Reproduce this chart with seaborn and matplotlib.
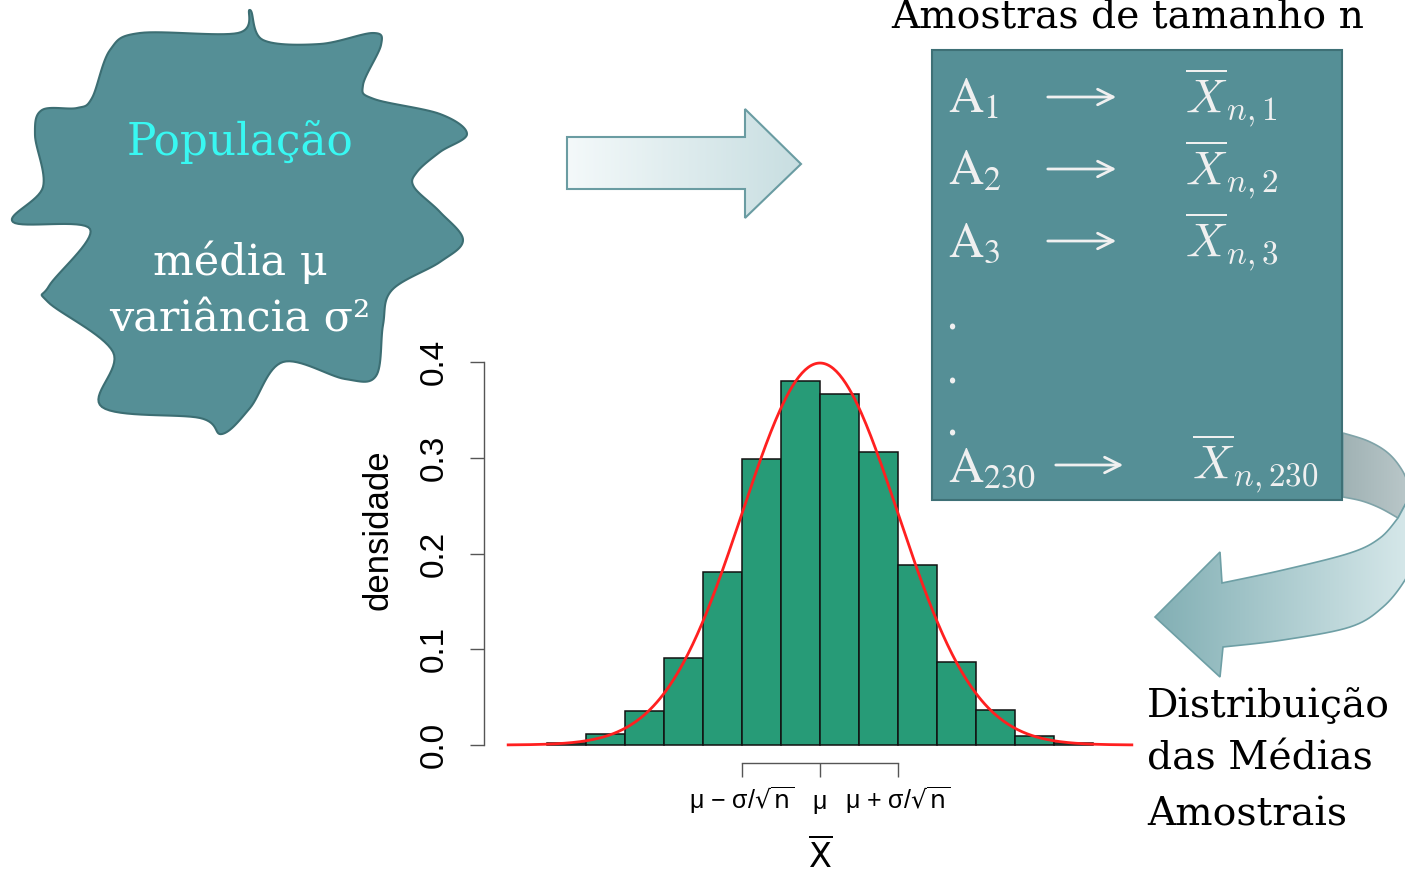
import numpy as np
import matplotlib
matplotlib.use("Agg")
import matplotlib.pyplot as plt
from matplotlib.patches import Polygon, Rectangle
import seaborn as sns

# Dados do histograma (médias amostrais padronizadas)
limites_classes = [-3.5, -3.0, -2.5, -2.0, -1.5, -1.0, -0.5, 0.0, 0.5, 1.0, 1.5, 2.0, 2.5, 3.0, 3.5]
densidade = [0.002, 0.012, 0.036, 0.091, 0.181, 0.299, 0.380, 0.367, 0.306, 0.188, 0.087, 0.037, 0.009, 0.002]
mu, sigma = 0.0, 1.0
ticks_y = [0.0, 0.1, 0.2, 0.3, 0.4]
ticks_x = [-1, 0, 1]
rotulos_x = [r'μ − σ/$\sqrt{\mathrm{n}}$', 'μ', r'μ + σ/$\sqrt{\mathrm{n}}$']
amostras = ['1', '2', '3']

centros = [(a + b) / 2 for a, b in zip(limites_classes[:-1], limites_classes[1:])]
x_curva = np.linspace(-4, 4, 400)
y_curva = np.exp(-0.5 * ((x_curva - mu) / sigma) ** 2) / (sigma * np.sqrt(2 * np.pi))

plt.rcParams['font.family'] = ['Liberation Sans', 'DejaVu Sans']

W, H = 1405, 877
fig = plt.figure(figsize=(W / 100, H / 100), dpi=100)

# eixo do histograma (posição em pixels da figura)
ax = fig.add_axes([484 / W, (H - 763) / H, 672 / W, (763 - 346.7) / H])
ax.patch.set_alpha(0)
sns.histplot(x=centros, weights=densidade, bins=limites_classes, stat='count',
             color='#279B77', alpha=1, edgecolor='#111111', linewidth=1.1, ax=ax)
sns.lineplot(x=x_curva, y=y_curva, color='#FF2020', linewidth=2.0, estimator=None, ax=ax)
ax.set_xlim(-4.31, 4.31)
ax.set_ylim(-0.0188, 0.416)
for s in ['top', 'right']:
    ax.spines[s].set_visible(False)
ax.spines['left'].set_bounds(0, 0.4)
ax.spines['bottom'].set_bounds(-1, 1)
for s in ['left', 'bottom']:
    ax.spines[s].set_color('#555555')
    ax.spines[s].set_linewidth(1.0)
ax.set_yticks(ticks_y)
ax.set_yticklabels([f'{v:.1f}' for v in ticks_y], rotation=90, va='center')
ax.set_xticks(ticks_x)
ax.set_xticklabels(rotulos_x, va='baseline')
for lab in ax.get_xticklabels():
    lab.set_math_fontfamily('dejavusans')
ax.tick_params(axis='y', length=10, width=1, color='#555555', labelsize=24, pad=15)
ax.tick_params(axis='x', length=10, width=1, color='#555555', labelsize=18, pad=23)
ax.set_ylabel('densidade', fontsize=25)
ax.yaxis.set_label_coords((378 - 484) / 672, (763 - 530) / 416.3)
ax.yaxis.label.set_verticalalignment('center')
ax.set_xlabel(r'$\overline{\mathrm{X}}$', fontsize=24)
ax.xaxis.label.set_math_fontfamily('dejavusans')
ax.xaxis.set_label_coords(0.5, (763 - 856) / 416.3)
ax.xaxis.label.set_verticalalignment('center')

# camada do diagrama em coordenadas de pixel
ov = fig.add_axes([0, 0, 1, 1])
ov.set_xlim(0, W)
ov.set_ylim(H, 0)
ov.axis('off')
ov.patch.set_alpha(0)


def suaviza(pts, n=16, fechado=True):
    p = np.array(pts, float)
    if not fechado:
        p = np.vstack([p[0], p, p[-1]])
    N = len(p)
    t = np.linspace(0, 1, n, endpoint=False)[:, None]
    out = []
    idx = range(N) if fechado else range(1, N - 2)
    for i in idx:
        p0, p1, p2, p3 = p[i - 1], p[i], p[(i + 1) % N], p[(i + 2) % N]
        out.append(0.5 * (2 * p1 + (-p0 + p2) * t + (2 * p0 - 5 * p1 + 4 * p2 - p3) * t ** 2
                          + (-p0 + 3 * p1 - 3 * p2 + p3) * t ** 3))
    if not fechado:
        out.append(p[-2][None, :])
    return np.vstack(out)


def gradiente(poly, x0, x1, y0, y1, c_esq, c_dir):
    cm = matplotlib.colors.LinearSegmentedColormap.from_list('g', [c_esq, c_dir])
    img = ov.imshow(np.linspace(0, 1, 256)[None, :], cmap=cm, extent=(x0, x1, y1, y0),
                    aspect='auto', zorder=poly.get_zorder() - 0.1)
    img.set_clip_path(poly)


# população (forma irregular)
contorno = [(250, 10), (263, 40), (320, 44), (373, 33), (381, 45), (363, 85), (374, 99),
            (440, 114), (467, 134), (440, 152), (417, 172), (414, 187), (440, 212), (463, 240),
            (440, 262), (392, 290), (383, 325), (376, 376), (345, 379), (283, 362), (250, 408),
            (222, 434), (200, 418), (102, 407), (113, 352), (48, 302), (49, 286), (90, 229),
            (13, 222), (43, 187), (35, 135), (42, 110), (77, 108), (92, 98), (110, 50),
            (140, 33), (238, 33)]
blob = Polygon(suaviza(contorno), closed=True, facecolor='#558F96', edgecolor='#3C6E73',
               linewidth=1.5, zorder=2)
ov.add_patch(blob)
serif = 'DejaVu Serif'
ov.text(240, 155, 'População', color='#38F8F2', fontsize=31.5, family=serif,
        ha='center', va='baseline', zorder=3)
ov.text(240, 275, 'média μ', color='white', fontsize=31, family=serif,
        ha='center', va='baseline', zorder=3)
ov.text(240, 332, 'variância σ²', color='white', fontsize=31, family=serif,
        ha='center', va='baseline', zorder=3)

# seta reta
seta = Polygon([(567, 137), (745, 137), (745, 109), (801, 164), (745, 218), (745, 189), (567, 189)],
               closed=True, facecolor='none', edgecolor='#6A9CA2', linewidth=1.5, zorder=3)
ov.add_patch(seta)
gradiente(seta, 567, 801, 109, 218, '#F4F9FA', '#C8DEE1')

# caixa das amostras
ov.add_patch(Rectangle((932, 50), 410, 450, facecolor='#558F96', edgecolor='#3E7076',
                       linewidth=1.5, zorder=2))
ov.text(1128, 27, 'Amostras de tamanho n', fontsize=28.3, family=serif,
        ha='center', va='baseline', zorder=3)
cor_txt = '#F0F0F0'
for i, k in enumerate(amostras):
    yb = 112 + 72 * i
    ov.text(948, yb, r'$\mathrm{A}_{%s}$' % k, color=cor_txt, fontsize=35,
            math_fontfamily='stix', ha='left', va='baseline', zorder=3)
    ov.annotate('', xy=(1119, yb - 15), xytext=(1045, yb - 15), zorder=3,
                arrowprops=dict(arrowstyle='->', color=cor_txt, lw=2, mutation_scale=28))
    ov.text(1185, yb, r'$\overline{X}_{n,%s}$' % k, color=cor_txt, fontsize=34,
            math_fontfamily='cm', ha='left', va='baseline', zorder=3)
for yd in [318, 371, 423]:
    ov.text(952, yd, '.', color=cor_txt, fontsize=30, family=serif, ha='center',
            va='center', zorder=3)
ov.text(948, 481, r'$\mathrm{A}_{230}$', color=cor_txt, fontsize=35,
        math_fontfamily='stix', ha='left', va='baseline', zorder=3)
ov.annotate('', xy=(1126, 465), xytext=(1053, 465), zorder=3,
            arrowprops=dict(arrowstyle='->', color=cor_txt, lw=2, mutation_scale=28))
ov.text(1192, 478, r'$\overline{X}_{n,230}$', color=cor_txt, fontsize=34,
        math_fontfamily='cm', ha='left', va='baseline', zorder=3)

# seta curva (parte de trás e parte da frente)
verso_ext = suaviza([(1343, 433), (1368, 441), (1388, 453), (1402, 470), (1412, 492)], 10, False)
verso_int = suaviza([(1398, 518), (1380, 508), (1362, 501), (1343, 497)], 10, False)
verso = Polygon(np.vstack([verso_ext, verso_int]), closed=True, facecolor='none',
                edgecolor='#7FA3A8', linewidth=1.2, zorder=1.5)
ov.add_patch(verso)
gradiente(verso, 1343, 1415, 433, 520, '#A0B2B4', '#BCC9CB')
frente_ext = suaviza([(1412, 492), (1416, 530), (1412, 560), (1405, 580), (1383, 607),
                      (1350, 627), (1283, 640), (1223, 647)], 10, False)
frente_int = suaviza([(1222, 583), (1283, 570), (1350, 553), (1380, 538), (1398, 518)], 10, False)
frente = Polygon(np.vstack([frente_ext, [(1220, 677), (1155, 617), (1220, 552)], frente_int]),
                 closed=True, facecolor='none', edgecolor='#6E9FA5', linewidth=1.2, zorder=1.6)
ov.add_patch(frente)
gradiente(frente, 1155, 1415, 492, 677, '#82AFB4', '#D8E9EB')

ov.text(1147, 717, 'Distribuição', fontsize=28.3, family=serif, ha='left', va='baseline', zorder=3)
ov.text(1147, 770, 'das Médias', fontsize=28.3, family=serif, ha='left', va='baseline', zorder=3)
ov.text(1147, 825, 'Amostrais', fontsize=28.3, family=serif, ha='left', va='baseline', zorder=3)

ov.set_xlim(0, W)
ov.set_ylim(H, 0)

fig.savefig('out.png', dpi=100)
